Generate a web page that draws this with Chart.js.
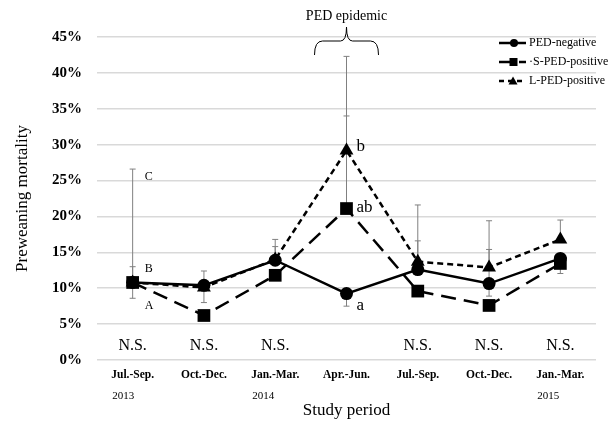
<!DOCTYPE html>
<html>
<head>
<meta charset="utf-8">
<script src="https://cdn.jsdelivr.net/npm/chart.js@4"></script>
<style>
  html, body { margin: 0; padding: 0; background: #fff; }
  #wrap { width: 609px; height: 427px; }
</style>
</head>
<body>
<div id="wrap"><canvas id="mortChart" width="609" height="427"></canvas></div>
<script>
// Study periods (quarters) and their year markers
const periods = ['Jul.-Sep.', 'Oct.-Dec.', 'Jan.-Mar.', 'Apr.-Jun.', 'Jul.-Sep.', 'Oct.-Dec.', 'Jan.-Mar.'];
const years = ['2013', '', '2014', '', '', '', '2015'];

// Preweaning mortality (%)
const pedNegative = [10.8, 10.4, 13.9, 9.25, 12.6, 10.65, 14.15];
const sPedPositive = [10.8, 6.2, 11.8, 21.1, 9.6, 7.6, 13.45];
const lPedPositive = [10.8, 10.1, 14.0, 29.2, 13.7, 12.9, 16.8];

// error bar ends (null = not drawn)
const pedNegHigh = [13.0, 12.4, 15.8, null, 16.6, 15.4, null];
const pedNegLow = [8.6, 8.0, null, 7.5, null, 8.9, null];
const sPedHigh = [null, null, null, 34.0, null, null, null];
const sPedLow = [null, null, null, null, null, null, 12.05];
const lPedHigh = [26.6, null, 16.8, 42.3, 21.6, 19.4, 19.5];
const lPedLow = [null, null, null, null, null, null, null];

const yTicks = [0, 5, 10, 15, 20, 25, 30, 35, 40, 45];
const nsLabels = ['N.S.', 'N.S.', 'N.S.', '', 'N.S.', 'N.S.', 'N.S.'];

// significance letters: [period index, value, text, size]
const letters = [
  [0, 25.5, 'C', 12],
  [0, 12.7, 'B', 12],
  [0, 7.6, 'A', 12],
  [3, 29.8, 'b', 17],
  [3, 21.2, 'ab', 17],
  [3, 7.6, 'a', 17]
];

const serif = '"Liberation Serif", "Times New Roman", serif';

const errorBars = {
  id: 'errorBars',
  beforeDatasetsDraw(chart) {
    const ctx = chart.ctx;
    const xs = chart.scales.x, ys = chart.scales.y;
    const sets = [[pedNegHigh, pedNegLow, pedNegative], [sPedHigh, sPedLow, sPedPositive], [lPedHigh, lPedLow, lPedPositive]];
    ctx.save();
    ctx.strokeStyle = '#808080';
    ctx.lineWidth = 1;
    sets.forEach(([hi, lo, mid]) => {
      mid.forEach((v, i) => {
        const x = xs.getPixelForValue(i);
        [hi[i], lo[i]].forEach(end => {
          if (end === null) return;
          const y0 = ys.getPixelForValue(v), y1 = ys.getPixelForValue(end);
          ctx.beginPath();
          ctx.moveTo(x, y0); ctx.lineTo(x, y1);
          ctx.moveTo(x - 3, y1); ctx.lineTo(x + 3, y1);
          ctx.stroke();
        });
      });
    });
    ctx.restore();
  }
};

const extras = {
  id: 'extras',
  afterDraw(chart) {
    const ctx = chart.ctx;
    const xs = chart.scales.x, ys = chart.scales.y;
    const area = chart.chartArea;
    ctx.save();
    ctx.fillStyle = '#000';

    // N.S. row
    ctx.font = '16px ' + serif;
    ctx.textAlign = 'center';
    ctx.textBaseline = 'middle';
    nsLabels.forEach((t, i) => {
      if (t) ctx.fillText(t, xs.getPixelForValue(i), area.bottom - 14);
    });

    // years under period labels
    ctx.textAlign = 'left';
    years.forEach((t, i) => {
      if (!t) return;
      ctx.font = 'bold 11.5px ' + serif;
      const w = ctx.measureText(periods[i]).width;
      ctx.font = '11px ' + serif;
      ctx.fillText(t, xs.getPixelForValue(i) - w / 2 + 1, area.bottom + 36);
    });

    // significance letters
    letters.forEach(([i, v, t, size]) => {
      ctx.font = size + 'px ' + serif;
      ctx.fillText(t, xs.getPixelForValue(i) + (size > 12 ? 10 : 12), ys.getPixelForValue(v));
    });

    // PED epidemic bracket
    const cx = xs.getPixelForValue(3);
    const half = 32, top = area.top + 4, bot = area.top + 18, tip = area.top - 10;
    ctx.strokeStyle = '#000';
    ctx.lineWidth = 1;
    ctx.beginPath();
    ctx.moveTo(cx - half, bot);
    ctx.quadraticCurveTo(cx - half, top, cx - half + 8, top);
    ctx.lineTo(cx - 6, top);
    ctx.quadraticCurveTo(cx, top, cx, tip);
    ctx.quadraticCurveTo(cx, top, cx + 6, top);
    ctx.lineTo(cx + half - 8, top);
    ctx.quadraticCurveTo(cx + half, top, cx + half, bot);
    ctx.stroke();
    ctx.font = '14px ' + serif;
    ctx.textAlign = 'center';
    ctx.fillText('PED epidemic', cx, area.top - 21);

    // legend
    const legendItems = [
      ['PED-negative', [], 'circle'],
      ['\u00b7S-PED-positive', [14, 6], 'rect'],
      ['L-PED-positive', [5, 4], 'triangle']
    ];
    legendItems.forEach(([label, dash, shape], k) => {
      const y = area.top + 6 + k * 19;
      const lx = 499;
      ctx.setLineDash(dash);
      ctx.lineWidth = 2.5;
      ctx.beginPath();
      ctx.moveTo(lx, y); ctx.lineTo(lx + 27, y);
      ctx.stroke();
      ctx.setLineDash([]);
      ctx.beginPath();
      if (shape === 'circle') ctx.arc(lx + 15, y, 4, 0, Math.PI * 2);
      if (shape === 'rect') ctx.rect(lx + 10.5, y - 4, 8, 8);
      if (shape === 'triangle') { ctx.moveTo(lx + 14, y - 4.5); ctx.lineTo(lx + 18.5, y + 3.5); ctx.lineTo(lx + 9.5, y + 3.5); ctx.closePath(); }
      ctx.fill();
      ctx.font = '12px ' + serif;
      ctx.textAlign = 'left';
      ctx.fillText(label, lx + 30, y);
    });
    ctx.restore();
  }
};

new Chart(document.getElementById('mortChart').getContext('2d'), {
  type: 'line',
  data: {
    labels: periods,
    datasets: [
      {
        label: 'S-PED-positive', data: sPedPositive,
        borderColor: '#000', backgroundColor: '#000', borderWidth: 2.5,
        borderDash: [15, 8], pointStyle: 'rect', pointRadius: 9, pointBorderWidth: 0,
        tension: 0
      },
      {
        label: 'PED-negative', data: pedNegative,
        borderColor: '#000', backgroundColor: '#000', borderWidth: 2.5,
        pointStyle: 'circle', pointRadius: 6.5, pointBorderWidth: 0,
        tension: 0
      },
      {
        label: 'L-PED-positive', data: lPedPositive,
        borderColor: '#000', backgroundColor: '#000', borderWidth: 2.5,
        borderDash: [6, 4], pointStyle: 'triangle', pointRadius: 8, pointBorderWidth: 0,
        tension: 0
      }
    ]
  },
  options: {
    responsive: false,
    animation: false,
    layout: { padding: { top: 37, right: 13, left: 0, bottom: 0 } },
    plugins: { legend: { display: false }, tooltip: { enabled: false } },
    scales: {
      x: {
        offset: true,
        grid: { display: false, drawTicks: false },
        border: { display: false },
        ticks: { color: '#000', font: { family: serif, size: 11.5, weight: 'bold' }, padding: 8, maxRotation: 0 },
        title: { display: true, text: 'Study period', color: '#000', font: { family: serif, size: 17 }, padding: { top: 0, bottom: 6 } },
        afterFit(scale) { scale.height = 67; }
      },
      y: {
        min: 0, max: 45,
        afterBuildTicks(scale) { scale.ticks = yTicks.map(v => ({ value: v })); },
        grid: { color: '#d9d9d9', lineWidth: 1.5, drawTicks: false },
        border: { display: false },
        ticks: { color: '#000', font: { family: serif, size: 15, weight: 'bold' }, padding: 15, callback: v => v + '%' },
        title: { display: true, text: 'Preweaning mortality', color: '#000', font: { family: serif, size: 17 }, padding: { top: 12, bottom: 0 } },
        afterFit(scale) { scale.width = 97; }
      }
    }
  },
  plugins: [errorBars, extras]
});
</script>
</body>
</html>
